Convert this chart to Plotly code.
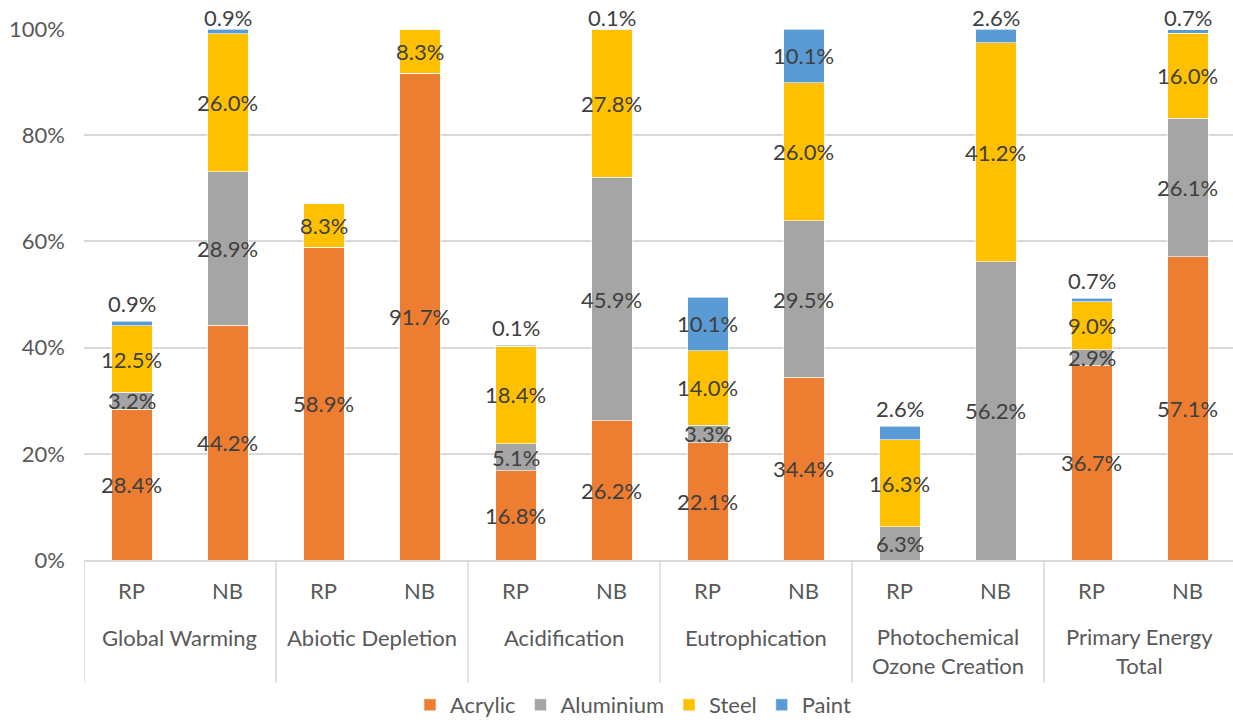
import plotly.graph_objects as go

groups = ["Global Warming", "Abiotic Depletion", "Acidification", "Eutrophication",
          "Photochemical<br>Ozone Creation", "Primary Energy<br>Total"]
variants = ["RP", "NB"]

acrylic   = [28.4, 44.2, 58.9, 91.7, 16.8, 26.2, 22.1, 34.4, 0.0, 0.0, 36.7, 57.1]
aluminium = [3.2, 28.9, 0.0, 0.0, 5.1, 45.9, 3.3, 29.5, 6.3, 56.2, 2.9, 26.1]
steel     = [12.5, 26.0, 8.3, 8.3, 18.4, 27.8, 14.0, 26.0, 16.3, 41.2, 9.0, 16.0]
paint     = [0.9, 0.9, 0.0, 0.0, 0.1, 0.1, 10.1, 10.1, 2.6, 2.6, 0.7, 0.7]

series = [("Acrylic", acrylic, "#ED7D31"),
          ("Aluminium", aluminium, "#A5A5A5"),
          ("Steel", steel, "#FFC000"),
          ("Paint", paint, "#5B9BD5")]

lvl0 = [g for g in groups for _ in variants]
lvl1 = [v for _ in groups for v in variants]
xcat = [lvl0, lvl1]

FONT = "Lato"
FS = 22
AXC = "#595959"
LBC = "#404040"
GRID = "#D9D9D9"

fig = go.Figure()
for name, vals, col in series:
    fig.add_trace(go.Bar(x=xcat, y=vals, name=name, marker_color=col,
                         marker_line_color="white", marker_line_width=0.6))

annotations = []
base = [0.0] * len(lvl0)
for si, (name, vals, col) in enumerate(series):
    for i, v in enumerate(vals):
        if v > 0:
            if name == "Paint" and v < 5:
                top = base[i] + v
                annotations.append(dict(x=i, y=top, yanchor="middle",
                                        yshift=12 if top >= 99 else 18,
                                        text=f"{v:.1f}%", showarrow=False,
                                        font=dict(family=FONT, size=FS, color=LBC)))
            else:
                annotations.append(dict(x=i, y=base[i] + v / 2, yanchor="middle",
                                        text=f"{v:.1f}%", showarrow=False,
                                        font=dict(family=FONT, size=FS, color=LBC)))
        base[i] += v

# axis category labels (two levels)
for i, v in enumerate(lvl1):
    annotations.append(dict(x=i, xref="x", y=-(590 - 560) / 531, yref="paper",
                            yanchor="middle", text=v, showarrow=False,
                            font=dict(family=FONT, size=FS, color=AXC)))
shapes = []
n_per = len(variants)
for g, name in enumerate(groups):
    cx = g * n_per + (n_per - 1) / 2
    ypix = 651 if "<br>" in name else 637
    annotations.append(dict(x=cx, xref="x", y=-(ypix - 560) / 531, yref="paper",
                            yanchor="middle", text=name, showarrow=False,
                            font=dict(family=FONT, size=FS, color=AXC)))
for g in range(len(groups) + 1):
    xb = g * n_per - 0.5
    shapes.append(dict(type="line", xref="x", yref="paper", x0=xb, x1=xb,
                       y0=0, y1=-(683 - 560) / 531,
                       line=dict(color=GRID, width=1.5)))

fig.update_layout(
    barmode="stack",
    bargap=0.58,
    width=1233, height=726,
    margin=dict(l=84, r=0, t=29, b=166, autoexpand=False),
    paper_bgcolor="white", plot_bgcolor="white",
    font=dict(family=FONT, size=FS, color=AXC),
    annotations=annotations,
    shapes=shapes,
    legend=dict(orientation="h", x=(633 - 84) / 1149, xanchor="center",
                y=-(726 - 560) / 531, yanchor="bottom",
                font=dict(family=FONT, size=FS, color=AXC),
                traceorder="normal"),
)
fig.update_xaxes(type="multicategory", showline=True, linecolor=GRID, linewidth=1.5,
                 showdividers=False, showticklabels=False, automargin=False,
                 ticks="", range=[-0.5, 11.47])
fig.update_yaxes(range=[0, 100], dtick=20, ticksuffix="%", showgrid=True,
                 gridcolor=GRID, gridwidth=1.5, zeroline=False, automargin=False,
                 ticklabelstandoff=18,
                 tickfont=dict(family=FONT, size=FS, color=AXC))

fig.write_html("out.html")
